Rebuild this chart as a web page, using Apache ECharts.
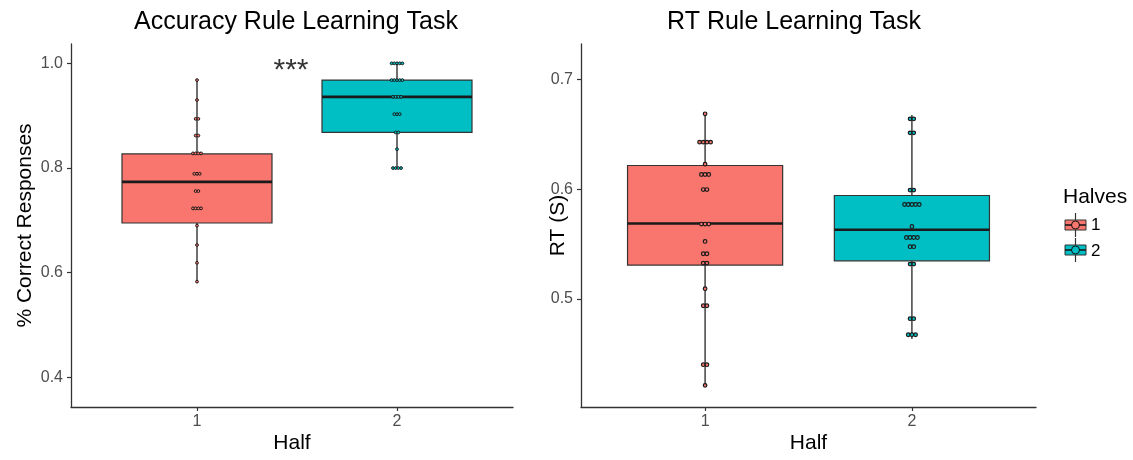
<!DOCTYPE html>
<html><head><meta charset="utf-8">
<script src="https://cdn.jsdelivr.net/npm/echarts@6/dist/echarts.min.js"></script>
<style>html,body{margin:0;padding:0;background:#fff}#c{width:1133px;height:460px}</style>
</head><body><div id="c"></div>
<script>
// ---- data ----
const halves = ['1', '2'];
const halfColors = ['#F8766D', '#00BFC4'];
const xTicks = [1, 2];
const accTicks = [0.4, 0.6, 0.8, 1.0];
const rtTicks = [0.5, 0.6, 0.7];

// Accuracy box statistics [half 1, half 2]
const accLow  = [0.582, 0.800];
const accQ1   = [0.695, 0.868];
const accMed  = [0.7735, 0.936];
const accQ3   = [0.827, 0.968];
const accHigh = [0.968, 1.000];

// RT box statistics [half 1, half 2]
const rtLow  = [0.4212, 0.4636];
const rtQ1   = [0.5309, 0.5348];
const rtMed  = [0.5687, 0.5630];
const rtQ3   = [0.6215, 0.5942];
const rtHigh = [0.6690, 0.6675];

// Individual participant dots
const accDots1 = [0.968, 0.930, 0.894, 0.894, 0.862, 0.862, 0.828, 0.828, 0.828, 0.828,
  0.789, 0.789, 0.789, 0.756, 0.756, 0.723, 0.723, 0.723, 0.723, 0.690, 0.653, 0.619, 0.583];
const accDots2 = [1.0, 1.0, 1.0, 1.0, 1.0, 0.968, 0.968, 0.968, 0.968, 0.968,
  0.936, 0.936, 0.936, 0.936, 0.903, 0.903, 0.903, 0.868, 0.868, 0.836, 0.800, 0.800, 0.800, 0.800];
const rtDots1 = [0.6685, 0.6427, 0.6427, 0.6427, 0.6427, 0.6227, 0.6133, 0.6133, 0.6133,
  0.5996, 0.5996, 0.5682, 0.5682, 0.5682, 0.5524, 0.5412, 0.5412, 0.5327, 0.5327,
  0.5094, 0.4939, 0.4939, 0.4403, 0.4403, 0.4215];
const rtDots2 = [0.6639, 0.6639, 0.6512, 0.6512, 0.5991, 0.5991, 0.586, 0.586, 0.586, 0.586, 0.586,
  0.566, 0.556, 0.556, 0.556, 0.556, 0.5476, 0.5476, 0.5318, 0.5318, 0.4821, 0.4821,
  0.4675, 0.4675, 0.4675];
const sigLabel = '***';
const sigPos = [1.47, 0.985];

// ---- helpers ----
const BOX_W = 0.75;
function stackDots(values, center, step) {
  const groups = new Map();
  values.forEach(v => groups.set(v, (groups.get(v) || 0) + 1));
  const out = [];
  groups.forEach((n, v) => {
    for (let i = 0; i < n; i++) out.push([center + (i - (n - 1) / 2) * step, v]);
  });
  return out;
}
function boxRender(params, api) {
  const x = api.value(0);
  const lo = api.coord([x, api.value(1)]);
  const q1 = api.coord([x, api.value(2)]);
  const md = api.coord([x, api.value(3)]);
  const q3 = api.coord([x, api.value(4)]);
  const hi = api.coord([x, api.value(5)]);
  const w = api.size([BOX_W, 0])[0];
  const cx = lo[0];
  const fill = api.visual('color');
  const wl = {stroke: '#333333', lineWidth: 1.4};
  return {type: 'group', children: [
    {type: 'line', shape: {x1: cx, y1: hi[1], x2: cx, y2: q3[1]}, style: wl},
    {type: 'line', shape: {x1: cx, y1: q1[1], x2: cx, y2: lo[1]}, style: wl},
    {type: 'rect', shape: {x: cx - w / 2, y: q3[1], width: w, height: q1[1] - q3[1]},
      style: {fill: fill, stroke: '#333333', lineWidth: 1.2}},
    {type: 'line', shape: {x1: cx - w / 2, y1: md[1], x2: cx + w / 2, y2: md[1]},
      style: {stroke: '#1a1a1a', lineWidth: 2.6}}
  ]};
}
const FONT = 'Liberation Sans, Arial, sans-serif';
const axisLine = {lineStyle: {color: '#333333', width: 1.3}};
function xAx(gi, min, max) {
  return {
    type: 'value', gridIndex: gi, min: min, max: max,
    axisLine: axisLine,
    axisTick: {customValues: xTicks, length: 4, lineStyle: {color: '#333333', width: 1.2}},
    axisLabel: {customValues: xTicks, formatter: v => String(v), color: '#4d4d4d',
      fontSize: 16, fontFamily: FONT, margin: 7},
    splitLine: {show: false},
    name: 'Half', nameLocation: 'middle', nameGap: 26, nameMoveOverlap: false,
    nameTextStyle: {fontSize: 21, color: '#000', fontFamily: FONT}
  };
}
function yAx(gi, min, max, ticks, name, gap) {
  return {
    type: 'value', gridIndex: gi, min: min, max: max,
    axisLine: {show: true, lineStyle: {color: '#333333', width: 1.3}},
    axisTick: {show: true, customValues: ticks, length: 4, lineStyle: {color: '#333333', width: 1.2}},
    axisLabel: {customValues: ticks, formatter: v => v.toFixed(1), color: '#4d4d4d',
      fontSize: 16, fontFamily: FONT, margin: 8},
    splitLine: {show: false},
    name: name, nameLocation: 'middle', nameGap: gap, nameMoveOverlap: false,
    nameTextStyle: {fontSize: 21, color: '#000', fontFamily: FONT}
  };
}

const series = [];
halves.forEach((h, i) => {
  series.push({
    type: 'custom', name: h, xAxisIndex: 0, yAxisIndex: 0, color: halfColors[i],
    renderItem: boxRender, encode: {x: 0, y: [1, 2, 3, 4, 5]},
    data: [[xTicks[i], accLow[i], accQ1[i], accMed[i], accQ3[i], accHigh[i]]], z: 2
  });
  series.push({
    type: 'custom', name: h, xAxisIndex: 1, yAxisIndex: 1, color: halfColors[i],
    renderItem: boxRender, encode: {x: 0, y: [1, 2, 3, 4, 5]},
    data: [[xTicks[i], rtLow[i], rtQ1[i], rtMed[i], rtQ3[i], rtHigh[i]]], z: 2
  });
});
const accDots = [accDots1, accDots2];
const rtDots = [rtDots1, rtDots2];
halves.forEach((h, i) => {
  series.push({
    type: 'scatter', name: h, xAxisIndex: 0, yAxisIndex: 0, symbolSize: 2.8, z: 5,
    itemStyle: {color: halfColors[i], borderColor: '#1a1a1a', borderWidth: 1, opacity: 1},
    data: stackDots(accDots[i], xTicks[i], 0.0135), silent: true
  });
  series.push({
    type: 'scatter', name: h, xAxisIndex: 1, yAxisIndex: 1, symbolSize: 3.6, z: 5,
    itemStyle: {color: halfColors[i], borderColor: '#1a1a1a', borderWidth: 1.2, opacity: 1},
    data: stackDots(rtDots[i], xTicks[i], 0.0178), silent: true
  });
});
// significance annotation
series.push({
  type: 'scatter', xAxisIndex: 0, yAxisIndex: 0, symbolSize: 0, silent: true, z: 6,
  data: [sigPos],
  label: {show: true, position: 'inside', formatter: sigLabel, fontSize: 30, color: '#000', fontFamily: FONT}
});

const chart = echarts.init(document.getElementById('c'), null, {renderer: 'canvas'});
const legendItem = (i) => ({name: halves[i], icon: 'rect',
  itemStyle: {color: 'rgba(0,0,0,0)', borderWidth: 0}});
const LEG_LEFT = 1065, LEG_TOP = 217, ROW_H = 16, ROW_GAP = 9, KEY_W = 21, KEY_H = 10;
const graphics = [];
halves.forEach((h, i) => {
  const cx = LEG_LEFT + KEY_W / 2;
  const cy = LEG_TOP + i * (ROW_H + ROW_GAP) + ROW_H / 2;
  graphics.push({type: 'line', z: 100, shape: {x1: cx, y1: cy - 12, x2: cx, y2: cy + 12},
    style: {stroke: '#333333', lineWidth: 1.2}, silent: true});
  graphics.push({type: 'rect', z: 101, shape: {x: LEG_LEFT, y: cy - KEY_H / 2, width: KEY_W, height: KEY_H},
    style: {fill: halfColors[i], stroke: '#333333', lineWidth: 1}, silent: true});
  graphics.push({type: 'line', z: 102, shape: {x1: LEG_LEFT, y1: cy, x2: LEG_LEFT + KEY_W, y2: cy},
    style: {stroke: '#1a1a1a', lineWidth: 1.6}, silent: true});
  graphics.push({type: 'circle', z: 103, shape: {cx: cx, cy: cy, r: 4},
    style: {fill: halfColors[i], stroke: '#111', lineWidth: 1}, silent: true});
});

chart.setOption({
  animation: false,
  backgroundColor: '#ffffff',
  textStyle: {fontFamily: FONT},
  title: [
    {text: 'Accuracy Rule Learning Task', left: 296, top: 10, textAlign: 'center', padding: 0,
      textStyle: {fontSize: 25, fontWeight: 'normal', color: '#000', fontFamily: FONT}},
    {text: 'RT Rule Learning Task', left: 794, top: 10, textAlign: 'center', padding: 0,
      textStyle: {fontSize: 25, fontWeight: 'normal', color: '#000', fontFamily: FONT}},
    {text: 'Halves', left: 1063, top: 187, padding: 0,
      textStyle: {fontSize: 21, fontWeight: 'normal', color: '#000', fontFamily: FONT}}
  ],
  legend: {
    orient: 'vertical', left: LEG_LEFT, top: LEG_TOP, padding: 0,
    itemWidth: KEY_W, itemHeight: KEY_H, itemGap: ROW_GAP,
    itemTextGap: 8, selectedMode: false,
    textStyle: {fontSize: 17, color: '#000', fontFamily: FONT, lineHeight: ROW_H},
    data: [legendItem(0), legendItem(1)]
  },
  grid: [
    {left: 71, top: 44, width: 442, height: 363},
    {left: 581, top: 44, width: 455, height: 363}
  ],
  xAxis: [xAx(0, 0.37, 2.58), xAx(1, 0.4, 2.6)],
  yAxis: [
    yAx(0, 0.3435, 1.037, accTicks, '% Correct Responses', 35),
    yAx(1, 0.4018, 0.732, rtTicks, 'RT (S)', 12)
  ],
  series: series,
  graphic: graphics
});
</script>
</body></html>
